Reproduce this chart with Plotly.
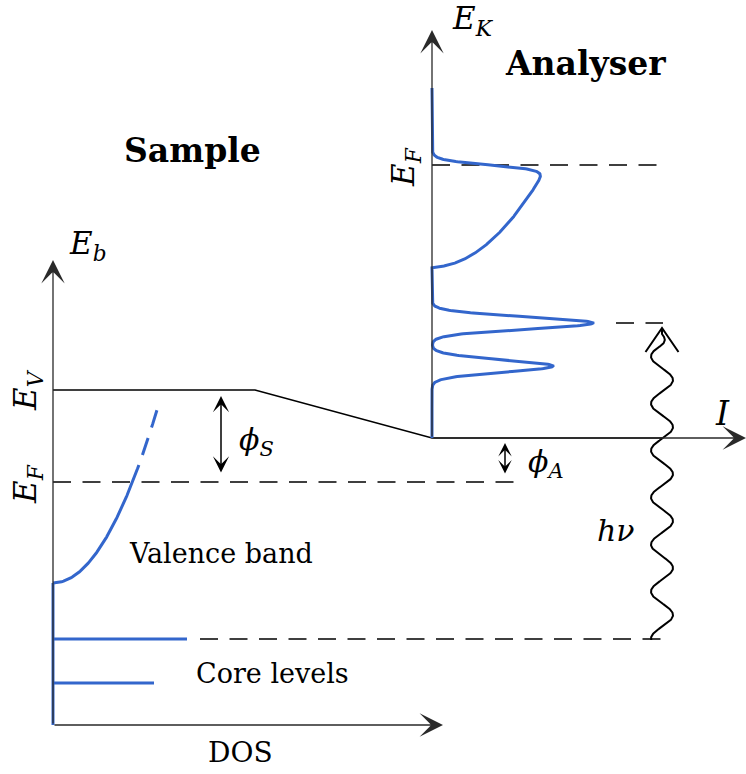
import numpy as np
import plotly.graph_objects as go

FIG_W, FIG_H = 746, 774

# ---------------- data (schematic coordinates, pixels, y grows downward) ----------------
# sample side (binding energy vs DOS)
sample_axis_x = 53
sample_axis_top = 260
dos_axis_y = 725
dos_axis_end = 443
vacuum_x = [53, 255, 432, 662]          # E_V level running into the analyser
vacuum_y = [390, 390, 438, 438]
sample_fermi_y = 482
sample_fermi_x = [53, 514]
vb_edge_y = 583                          # bottom of valence band
vb_curvature = 0.016
vb_solid_top = 465
vb_dash_bottom = 455
vb_top = 410
core_y = [639, 683]
core_dos = [134, 101]
core_dash_x = [200, 661]

# analyser side (kinetic energy vs intensity)
an_axis_x = 432
an_axis_top = 30
i_axis_y = 438
i_axis_end = 746
an_fermi_y = 165
an_fermi_x = [432, 657]
an_fermi_width = 2.5
an_vb_bottom = 267
an_vb_scale = 11.5
an_spec_top = 88
peak_y = [323, 366]
peak_height = [161, 121]
peak_sigma = [6.0, 6.0]
peak_dash_x = [616, 663]

# photon
photon_x = 662
photon_y = [640, 334]
photon_amp = 11
photon_period = 47
photon_phase_y = 380
photon_tip_y = 328
photon_head = [16.5, 24]

# work-function arrows
phi_s_x, phi_s_y = 221, [396, 474]
phi_a_x, phi_a_y = 505, [443, 475]

BLUE = "#3366cc"
AXIS = "#2a2a2a"
SERIF = "DejaVu Serif"
DASH = "18px,11.5px"

fig = go.Figure()


def line(xs, ys, color="black", width=1.6, dash=None):
    fig.add_trace(go.Scatter(x=list(xs), y=list(ys), mode="lines",
                             line=dict(color=color, width=width, dash=dash),
                             hoverinfo="skip", showlegend=False))


# ---- black level lines ----
line(vacuum_x, vacuum_y, width=1.6)
line(sample_fermi_x, [sample_fermi_y] * 2, width=1.5, dash=DASH)
line(core_dash_x, [core_y[0]] * 2, width=1.5, dash=DASH)
line(an_fermi_x, [an_fermi_y] * 2, width=1.5, dash=DASH)
line(peak_dash_x, [peak_y[0]] * 2, width=1.5, dash=DASH)

# ---- sample DOS ----
line([sample_axis_x, sample_axis_x], [dos_axis_y, vb_edge_y], color=BLUE, width=3)
ys = np.linspace(vb_edge_y, vb_solid_top, 200)
line(sample_axis_x + np.sqrt((vb_edge_y - ys) / vb_curvature), ys, color=BLUE, width=3)
ys = np.linspace(vb_dash_bottom, vb_top, 100)
line(sample_axis_x + np.sqrt((vb_edge_y - ys) / vb_curvature), ys, color=BLUE, width=3,
     dash="18px,11px")
for cy, cd in zip(core_y, core_dos):
    line([sample_axis_x, sample_axis_x + cd], [cy, cy], color=BLUE, width=3)

# ---- analyser spectrum ----
ys = np.linspace(an_spec_top, i_axis_y, 1500)
fermi = 1.0 / (1.0 + np.exp((an_fermi_y - ys) / an_fermi_width))
spec = fermi * an_vb_scale * np.sqrt(np.clip(an_vb_bottom - ys, 0, None))
for py, ph, ps in zip(peak_y, peak_height, peak_sigma):
    spec = spec + ph * np.exp(-0.5 * ((ys - py) / ps) ** 2)
line(an_axis_x + spec, ys, color=BLUE, width=3)

# ---- photon ----
ys = np.linspace(photon_y[0], photon_y[1], 800)
taper = np.clip((ys - photon_y[1]) / 14.0, 0, 1)
xs = photon_x + photon_amp * taper * np.sin(2 * np.pi * (ys - photon_phase_y + photon_period / 4) / photon_period)
line(list(xs) + [photon_x], list(ys) + [photon_tip_y], width=2)
line([photon_x - photon_head[0], photon_x, photon_x + photon_head[0]],
     [photon_tip_y + photon_head[1], photon_tip_y, photon_tip_y + photon_head[1]], width=2)

# ---- arrows (axes and work functions) ----
ann = []


def arrow(x0, y0, x1, y1, width, size, color, both=False):
    d = dict(x=x1, y=y1, ax=x0, ay=y0, xref="x", yref="y", axref="x", ayref="y",
             text="", showarrow=True, arrowhead=3, arrowsize=size, arrowwidth=width,
             arrowcolor=color)
    if both:
        d.update(arrowside="end+start", startarrowhead=3, startarrowsize=size)
    ann.append(d)


arrow(sample_axis_x, dos_axis_y, sample_axis_x, sample_axis_top, 1.3, 3.0, AXIS)
arrow(sample_axis_x, dos_axis_y, dos_axis_end, dos_axis_y, 1.3, 3.0, AXIS)
arrow(an_axis_x, i_axis_y, an_axis_x, an_axis_top, 1.3, 3.0, AXIS)
arrow(an_axis_x, i_axis_y, i_axis_end, i_axis_y, 1.3, 3.0, AXIS)
arrow(phi_s_x, phi_s_y[1], phi_s_x, phi_s_y[0], 1.5, 1.8, "black", both=True)
arrow(phi_a_x, phi_a_y[1], phi_a_x, phi_a_y[0], 1.5, 1.5, "black", both=True)


def text(x, y, s, size=32, angle=0):
    ann.append(dict(x=x, y=y, xref="x", yref="y", text=s, showarrow=False,
                    xanchor="center", yanchor="middle", textangle=angle,
                    font=dict(family=SERIF, size=size, color="black")))


text(192, 150, "<b>Sample</b>", size=33)
text(585, 63, "<b>Analyser</b>", size=33)
text(221, 553, "Valence band", size=27)
text(272, 673, "Core levels", size=27)
text(240, 752, "DOS", size=28)
text(88, 245, "<i>E</i><sub><i>b</i></sub>", size=31)
text(473, 20, "<i>E</i><sub><i>K</i></sub>", size=31)
text(27, 390, "<i>E</i><sub><i>V</i></sub>", size=31, angle=-90)
text(27, 484, "<i>E</i><sub><i>F</i></sub>", size=31, angle=-90)
text(405, 167, "<i>E</i><sub><i>F</i></sub>", size=31, angle=-90)
text(256, 441, "<i>ϕ</i><sub><i>S</i></sub>", size=30)
text(546, 463, "<i>ϕ</i><sub><i>A</i></sub>", size=30)
text(722, 413, "<i>I</i>", size=33)
text(616, 530, "<i>hν</i>", size=30)

fig.update_layout(
    width=FIG_W, height=FIG_H,
    margin=dict(l=0, r=0, t=0, b=0),
    paper_bgcolor="white", plot_bgcolor="white",
    font=dict(family=SERIF),
    xaxis=dict(range=[0, FIG_W], visible=False, fixedrange=True),
    yaxis=dict(range=[FIG_H, 0], visible=False, fixedrange=True),
    annotations=ann,
    showlegend=False,
)

fig.write_html("out.html")
